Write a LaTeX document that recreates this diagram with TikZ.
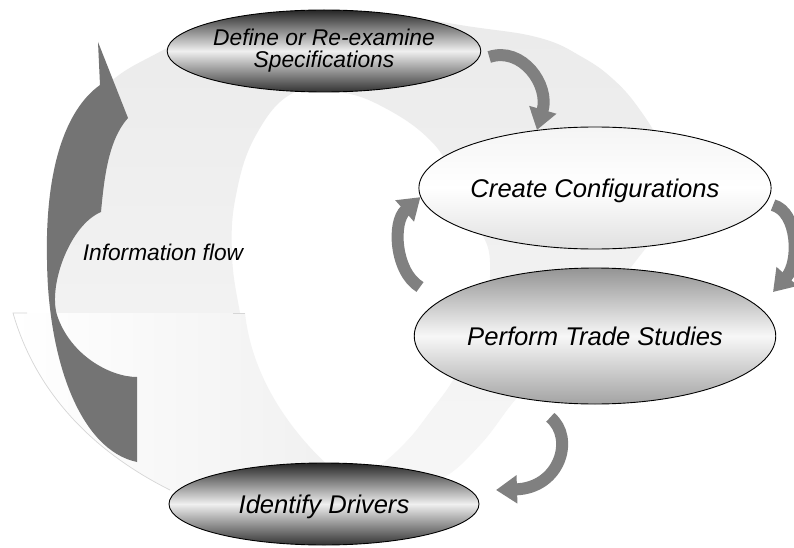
\documentclass[tikz,border=0pt]{standalone}
\usepackage{fontspec}
\setmainfont{Liberation Sans}
\usetikzlibrary{shapes.geometric,arrows.meta}
\definecolor{darkarrow}{HTML}{747474}
\definecolor{smallarrow}{HTML}{808080}
\begin{document}
\begin{tikzpicture}[x=1pt,y=-1pt,
  oval/.style={ellipse, draw=black, line width=0.9pt, inner sep=0pt, align=center,
    font=\itshape\fontsize{25.6}{28}\selectfont},
  oneline/.style={text height=21pt, text depth=2pt},
  darkoval/.style={oval, top color=black!85, bottom color=black!80, middle color=black!6},
  greyoval/.style={oval, top color=black!42, bottom color=black!36, middle color=black!3},
  lightoval/.style={oval, top color=black!4, bottom color=black!12, middle color=white},
  flow/.style={draw=smallarrow, line width=12pt, -{Triangle[width=27pt,length=21pt]}},
  flowlabel/.style={font=\itshape\fontsize{22.7}{24}\selectfont},
]
\clip (0,0) rectangle (794,548);
\fill[white] (0,0) rectangle (794,548);

% faint background ring
\shade[even odd rule, top color=black!8, bottom color=black!3]
  plot[smooth cycle, tension=0.7] coordinates {(54,313) (53,250) (58,180) (74,125) (108,84) (150,57) (200,36) (280,20) (380,15) (473,27) (540,38) (582,57) (614,80) (640,110) (660,145) (668,185) (660,225) (635,262) (595,310) (555,355) (515,400) (480,445) (440,480) (380,505) (300,505) (200,470) (120,410)}
  plot[smooth cycle, tension=0.7] coordinates {(293,93) (340,92) (385,108) (430,140) (455,178) (478,225) (490,262) (482,320) (456,375) (430,412) (405,443) (375,468) (345,476) (318,461) (292,432) (268,398) (250,358) (240,313) (232,255) (236,195) (256,135)};
% faint arrowhead of the ring
\shade[left color=white, right color=black!6]
  (13,313) -- (245,313) .. controls (252,380) and (295,440) .. (345,480) -- (300,525) -- (170,490)
  .. controls (90,450) and (35,390) .. (13,313) -- cycle;
\draw[black!16, line width=0.7pt] (170,490) .. controls (90,450) and (35,390) .. (13,313) -- (27,313);
\draw[black!16, line width=0.7pt] (233,313) -- (245,313);

% dark information-flow arrow
\fill[darkarrow] (137,462) -- (137,377)
  .. controls (110,377) and (70,355) .. (57,315)
  .. controls (48,285) and (70,225) .. (101,212)
  .. controls (104,180) and (108,140) .. (128,118)
  -- (98,42) -- (100,85)
  .. controls (65,110) and (45,170) .. (47,260)
  .. controls (48,360) and (80,450) .. (137,462) -- cycle;

\node[flowlabel] (info) at (163,252) {Information flow};

% process ellipses
\node[darkoval, minimum width=310pt, minimum height=82pt, font=\itshape\fontsize{22.8}{22}\selectfont]
  (def) at (324,51) {Define or Re-examine\\Specifications};
\node[lightoval, oneline, minimum width=337pt, minimum height=122pt] (cre) at (595,188) {Create Configurations};
\node[greyoval, oneline, minimum width=337pt, minimum height=136pt] (per) at (595,336) {Perform Trade Studies};
\node[darkoval, oneline, minimum width=310pt, minimum height=82pt] (idr) at (324,504) {Identify Drivers};

% small curved arrows
\coordinate (a2end) at (773,292);
\coordinate (a3start) at (420,287);
\coordinate (a4end) at (496,490);
\draw[flow] ([shift={(8,6)}]def.east) .. controls (522,46) and (550,85) .. (cre.135);
\draw[flow] ([shift={(5,5)}]cre.-4) .. controls (798,212) and (800,262) .. (a2end);
\draw[flow] (a3start) .. controls (395,272) and (392,222) .. (cre.183);
\draw[flow] ([shift={(0,15)}]per.236) .. controls (575,438) and (560,488) .. (a4end);
\end{tikzpicture}
\end{document}
